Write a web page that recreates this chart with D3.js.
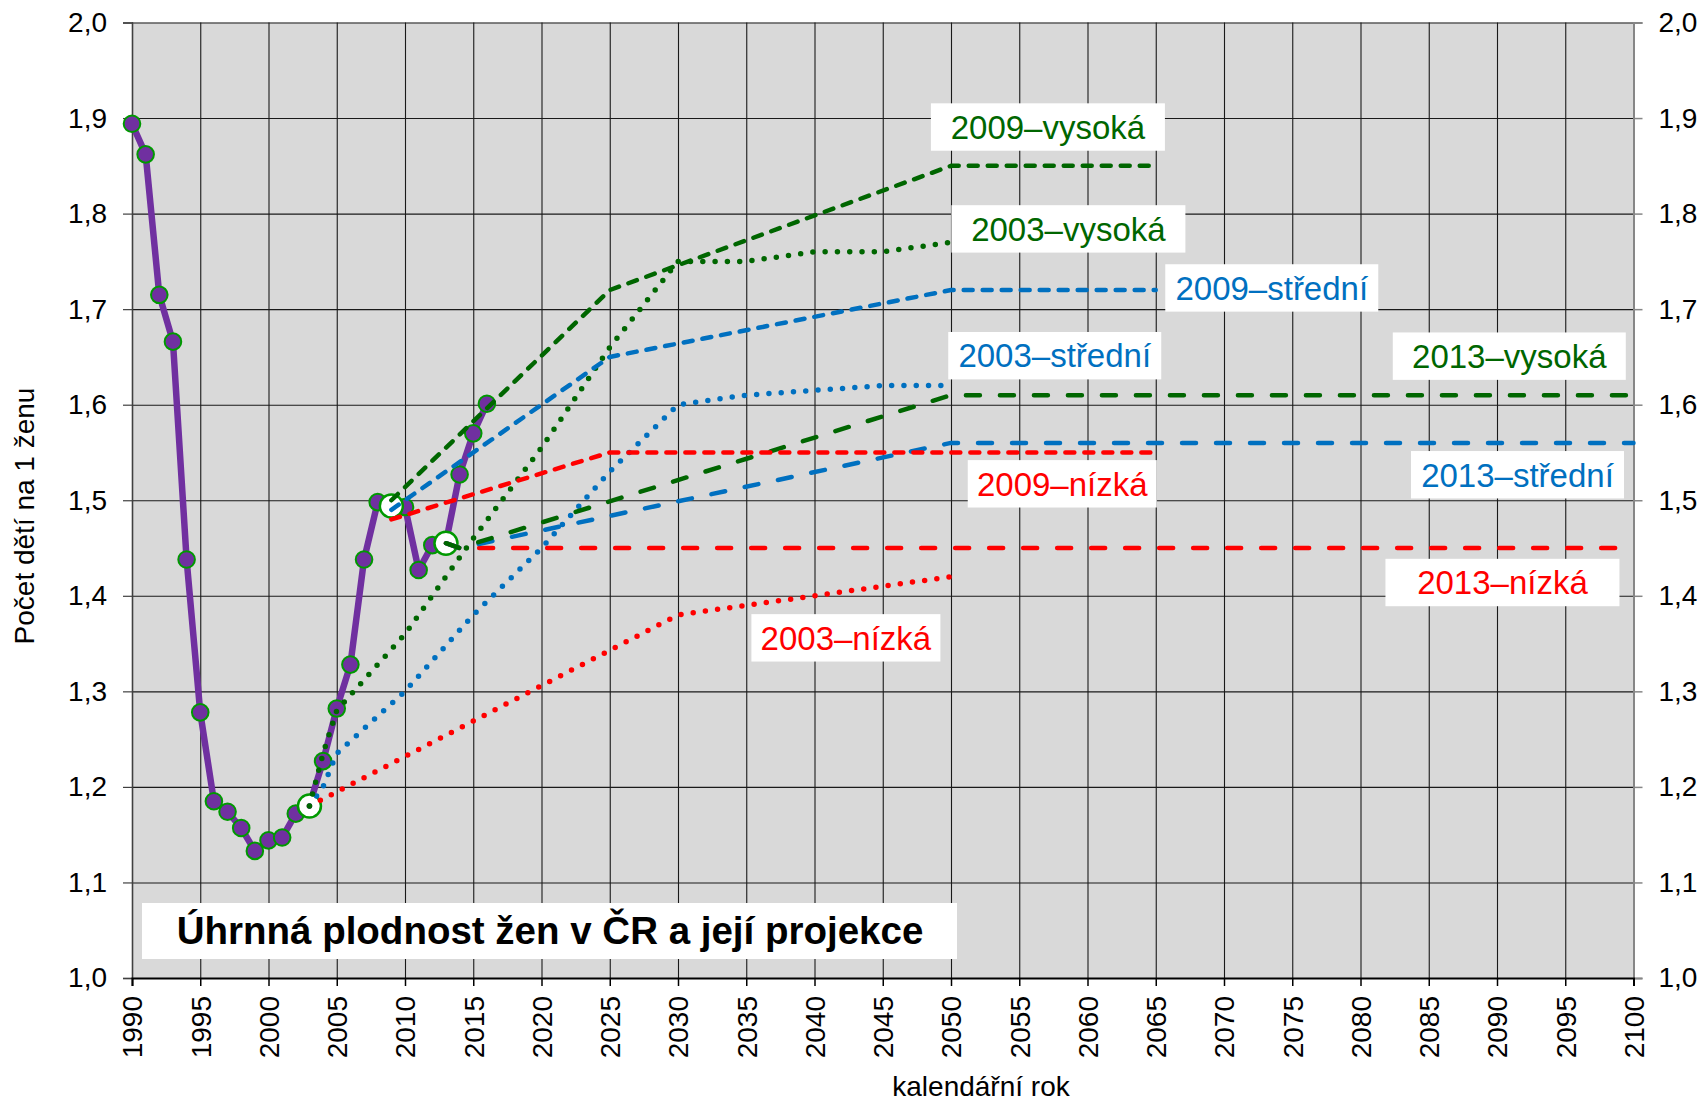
<!DOCTYPE html>
<html>
<head>
<meta charset="utf-8">
<script src="https://cdn.jsdelivr.net/npm/d3@7.9.0/dist/d3.min.js"></script>
<style>
  body { margin: 0; background: #fff; }
  svg { display: block; font-family: "Liberation Sans", Arial, sans-serif; }
</style>
</head>
<body>
<svg id="chart" width="1702" height="1101"></svg>
<script>
// observed total fertility rate
const years = [1990, 1991, 1992, 1993, 1994, 1995, 1996, 1997, 1998, 1999, 2000, 2001, 2002,
  2003, 2004, 2005, 2006, 2007, 2008, 2009, 2010, 2011, 2012, 2013, 2014, 2015, 2016];
const tfr = [1.894, 1.862, 1.715, 1.666, 1.438, 1.278, 1.185, 1.174, 1.157, 1.133, 1.144, 1.147, 1.172,
  1.181, 1.227, 1.282, 1.328, 1.438, 1.498, 1.493, 1.493, 1.427, 1.453, 1.456, 1.527, 1.570, 1.601];

// projection starting points (white circles)
const baseYears = [2003, 2009, 2013];
const baseValues = [1.180, 1.494, 1.455];

// projections 2003 (dotted)
const p2003High = [[2003, 1.18], [2004, 1.235], [2005, 1.28], [2010, 1.36], [2015, 1.46], [2020, 1.555], [2025, 1.66], [2030, 1.75], [2035, 1.75], [2040, 1.76], [2045, 1.76], [2050, 1.77]];
const p2003Mid = [[2003, 1.18], [2004, 1.20], [2005, 1.235], [2010, 1.30], [2015, 1.38], [2020, 1.45], [2025, 1.53], [2030, 1.60], [2035, 1.61], [2040, 1.615], [2045, 1.62], [2050, 1.62]];
const p2003Low = [[2003, 1.18], [2030, 1.38], [2040, 1.40], [2050, 1.42]];

// projections 2009 (short dashes)
const p2009High = [[2009, 1.50], [2025, 1.72], [2050, 1.85], [2065, 1.85]];
const p2009Mid = [[2009, 1.49], [2025, 1.65], [2050, 1.72], [2065, 1.72]];
const p2009Low = [[2009, 1.48], [2025, 1.55], [2065, 1.55]];

// projections 2013 (long dashes)
const p2013High = [[2013, 1.455], [2014, 1.45], [2050, 1.61], [2100, 1.61]];
const p2013Mid = [[2013, 1.455], [2014, 1.45], [2050, 1.56], [2100, 1.56]];
const p2013Low = [[2013, 1.455], [2014, 1.45], [2100, 1.45]];

// label texts and where they sit (centre, in data units)
const labelTexts = ["2009–vysoká", "2003–vysoká", "2009–střední", "2003–střední", "2013–vysoká",
  "2013–střední", "2013–nízká", "2009–nízká", "2003–nízká"];
const labelYears = [2057.1, 2058.6, 2073.5, 2057.6, 2090.9, 2091.5, 2090.4, 2058.15, 2042.3];
const labelValues = [1.8906, 1.784, 1.7222, 1.6513, 1.6508, 1.5267, 1.4139, 1.5172, 1.356];
const labelWidths = [234, 234, 213, 213, 233, 213, 234, 189, 189];
const labelKinds = ["high", "high", "mid", "mid", "high", "mid", "low", "low", "low"];

const xTicks = [1990, 1995, 2000, 2005, 2010, 2015, 2020, 2025, 2030, 2035, 2040, 2045, 2050,
  2055, 2060, 2065, 2070, 2075, 2080, 2085, 2090, 2095, 2100];
const yTicks = [1.0, 1.1, 1.2, 1.3, 1.4, 1.5, 1.6, 1.7, 1.8, 1.9, 2.0];

const titleText = "Úhrnná plodnost žen v ČR a její projekce";
const xTitle = "kalendářní rok";
const yTitle = "Počet dětí na 1 ženu";

const colors = { high: "#006600", mid: "#0070C0", low: "#FF0000" };

const svg = d3.select("#chart");
const plotLeft = 132, plotRight = 1633.5, plotTop = 22.5, plotBottom = 978;

const x = d3.scaleLinear().domain([1990, 2100]).range([plotLeft, plotRight]);
const y = d3.scaleLinear().domain([1, 2]).range([plotBottom, plotTop]);

// plot background
svg.append("rect")
  .attr("x", plotLeft).attr("y", plotTop)
  .attr("width", plotRight - plotLeft).attr("height", plotBottom - plotTop)
  .attr("fill", "#D9D9D9");

// grid
const gridX = svg.append("g")
  .attr("transform", `translate(0,${plotBottom})`)
  .call(d3.axisBottom(x).tickValues(xTicks).tickSize(-(plotBottom - plotTop)).tickFormat(""));
gridX.select(".domain").remove();
gridX.selectAll("line").attr("stroke", "#1a1a1a").attr("stroke-width", 1.1);

const gridY = svg.append("g")
  .attr("transform", `translate(${plotLeft},0)`)
  .call(d3.axisLeft(y).tickValues(yTicks).tickSize(-(plotRight - plotLeft)).tickFormat(""));
gridY.select(".domain").remove();
gridY.selectAll("line").attr("stroke", "#1a1a1a").attr("stroke-width", 1.1);

const fmt = d => d.toFixed(1).replace(".", ",");

// left axis
const yAxisL = svg.append("g")
  .attr("transform", `translate(${plotLeft},0)`)
  .call(d3.axisLeft(y).tickValues(yTicks).tickSize(9).tickPadding(16).tickFormat(fmt));
yAxisL.select(".domain").attr("stroke", "#404040").attr("stroke-width", 1.5);
yAxisL.selectAll("line").attr("stroke", "#404040").attr("stroke-width", 1.2);
yAxisL.selectAll("text").attr("font-size", 28).attr("fill", "#000")
  .attr("font-family", "Liberation Sans, Arial, sans-serif");

// right axis
const yAxisR = svg.append("g")
  .attr("transform", `translate(${plotRight},0)`)
  .call(d3.axisRight(y).tickValues(yTicks).tickSize(9).tickPadding(16).tickFormat(fmt));
yAxisR.select(".domain").attr("stroke", "#868686").attr("stroke-width", 2);
yAxisR.selectAll("line").attr("stroke", "#868686").attr("stroke-width", 1.5);
yAxisR.selectAll("text").attr("font-size", 28).attr("fill", "#000")
  .attr("font-family", "Liberation Sans, Arial, sans-serif");

// bottom axis
const xAxis = svg.append("g")
  .attr("transform", `translate(0,${plotBottom})`)
  .call(d3.axisBottom(x).tickValues(xTicks).tickSize(8).tickFormat(d3.format("d")));
xAxis.select(".domain").attr("stroke", "#000").attr("stroke-width", 2);
xAxis.selectAll("line").attr("stroke", "#000").attr("stroke-width", 1.5);
xAxis.selectAll("text")
  .attr("font-size", 28).attr("fill", "#000")
  .attr("font-family", "Liberation Sans, Arial, sans-serif")
  .attr("transform", "rotate(-90)")
  .attr("text-anchor", "end")
  .attr("x", -18).attr("y", 0).attr("dy", "0.35em");

// axis titles
svg.append("text")
  .attr("x", 981).attr("y", 1096)
  .attr("text-anchor", "middle").attr("font-size", 28)
  .text(xTitle);

svg.append("text")
  .attr("transform", "translate(34,516) rotate(-90)")
  .attr("text-anchor", "middle").attr("font-size", 28)
  .text(yTitle);

const line = d3.line().x(d => x(d[0])).y(d => y(d[1]));

// observed series
const observed = years.map((yr, i) => [yr, tfr[i]]);
svg.append("path")
  .datum(observed)
  .attr("d", line)
  .attr("fill", "none")
  .attr("stroke", "#7030A0")
  .attr("stroke-width", 6.5)
  .attr("stroke-linejoin", "round");

svg.append("g").selectAll("circle")
  .data(observed)
  .join("circle")
  .attr("cx", d => x(d[0]))
  .attr("cy", d => y(d[1]))
  .attr("r", 8.3)
  .attr("fill", "#7030A0")
  .attr("stroke", "#009900")
  .attr("stroke-width", 2);

// base points
svg.append("g").selectAll("circle")
  .data(baseYears.map((yr, i) => [yr, baseValues[i]]))
  .join("circle")
  .attr("cx", d => x(d[0]))
  .attr("cy", d => y(d[1]))
  .attr("r", 11.5)
  .attr("fill", "#fff")
  .attr("stroke", "#009900")
  .attr("stroke-width", 2.5);

// projections
const series = [
  { data: p2003Low, kind: "low", dash: "0,12.3", width: 5.5 },
  { data: p2003Mid, kind: "mid", dash: "0,12.3", width: 5.5 },
  { data: p2003High, kind: "high", dash: "0,12.3", width: 5.5 },
  { data: p2013Low, kind: "low", dash: "14,20", width: 4.5 },
  { data: p2013Mid, kind: "mid", dash: "14,20", width: 4.5 },
  { data: p2013High, kind: "high", dash: "14,20", width: 4.5 },
  { data: p2009Low, kind: "low", dash: "9,10", width: 4.5 },
  { data: p2009Mid, kind: "mid", dash: "9,10", width: 4.5 },
  { data: p2009High, kind: "high", dash: "9,10", width: 4.5 }
];

svg.append("g").selectAll("path")
  .data(series)
  .join("path")
  .attr("d", d => line(d.data))
  .attr("fill", "none")
  .attr("stroke", d => colors[d.kind])
  .attr("stroke-width", d => d.width)
  .attr("stroke-dasharray", d => d.dash)
  .attr("stroke-linecap", "round")
  .attr("stroke-linejoin", "round");

// labels
const labels = svg.append("g").selectAll("g")
  .data(labelTexts.map((t, i) => ({ t, yr: labelYears[i], v: labelValues[i], w: labelWidths[i], kind: labelKinds[i] })))
  .join("g")
  .attr("transform", d => `translate(${x(d.yr)},${y(d.v)})`);

labels.append("rect")
  .attr("x", d => -d.w / 2).attr("y", -23.7)
  .attr("width", d => d.w).attr("height", 47.4)
  .attr("fill", "#fff");

labels.append("text")
  .attr("text-anchor", "middle")
  .attr("y", 11.8)
  .attr("font-size", 33)
  .attr("fill", d => colors[d.kind])
  .text(d => d.t);

// title box
svg.append("rect")
  .attr("x", 142).attr("y", 903)
  .attr("width", 815).attr("height", 56)
  .attr("fill", "#fff");
svg.append("text")
  .attr("x", 550).attr("y", 944)
  .attr("text-anchor", "middle")
  .attr("font-size", 38.5).attr("font-weight", "bold")
  .text(titleText);
</script>
</body>
</html>
